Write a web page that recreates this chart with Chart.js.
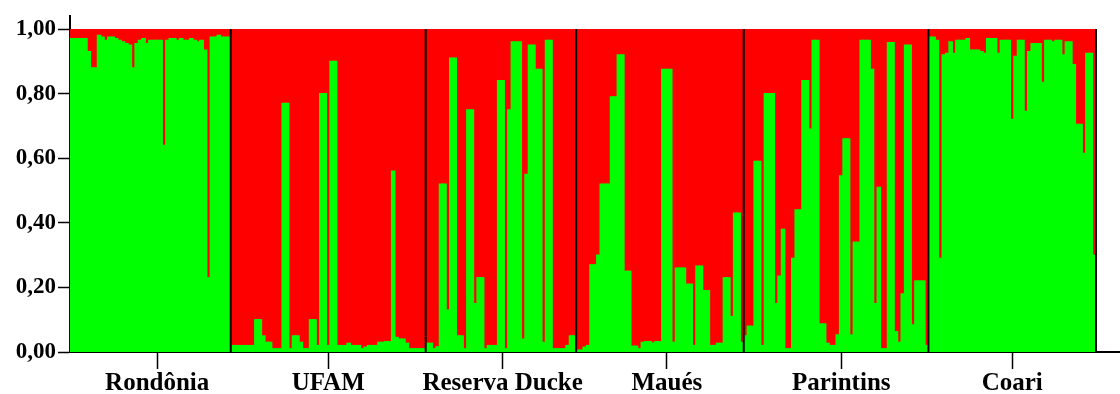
<!DOCTYPE html>
<html>
<head>
<meta charset="utf-8">
<script src="https://cdn.jsdelivr.net/npm/chart.js@4"></script>
<style>
    html, body { margin: 0; padding: 0; background: #fff; }
</style>
</head>
<body>
<canvas id="structureChart" width="1120" height="394"></canvas>
<script>
// Populações e proporção de cada indivíduo no grupo verde (o vermelho é o resto)
const popNames = ["Rondônia", "UFAM", "Reserva Ducke", "Maués", "Parintins", "Coari"];

const rondonia = [0.97, 0.97, 0.97, 0.97, 0.97, 0.93, 0.88, 0.88, 0.98, 0.975,
    0.965, 0.975, 0.975, 0.97, 0.965, 0.96, 0.955, 0.95, 0.88, 0.955,
    0.965, 0.97, 0.955, 0.965, 0.965, 0.965, 0.965, 0.64, 0.965, 0.97,
    0.97, 0.965, 0.97, 0.965, 0.965, 0.97, 0.965, 0.96, 0.965, 0.935,
    0.23, 0.975, 0.975, 0.98, 0.975, 0.975, 0.975];

const ufam = [0.02, 0.02, 0.02, 0.02, 0.02, 0.02, 0.02, 0.10, 0.10, 0.05,
    0.03, 0.03, 0.01, 0.01, 0.01, 0.77, 0.77, 0.01, 0.05, 0.05,
    0.03, 0.01, 0.01, 0.10, 0.10, 0.02, 0.80, 0.80, 0.02, 0.90,
    0.90, 0.02, 0.02, 0.02, 0.027, 0.02, 0.02, 0.02, 0.01, 0.015,
    0.02, 0.02, 0.02, 0.03, 0.03, 0.032, 0.032, 0.56, 0.045, 0.04,
    0.04, 0.027, 0.01, 0.01, 0.01, 0.01, 0.01];

const reservaDucke = [0.027, 0.027, 0.01, 0.016, 0.52, 0.52, 0.13, 0.91, 0.91, 0.05,
    0.05, 0.01, 0.75, 0.75, 0.15, 0.23, 0.23, 0.01, 0.02, 0.02,
    0.02, 0.84, 0.84, 0.01, 0.75, 0.96, 0.96, 0.96, 0.04, 0.55,
    0.95, 0.95, 0.875, 0.875, 0.03, 0.965, 0.965, 0.01, 0.01, 0.01,
    0.01, 0.02, 0.05, 0.05];

const maues = [0.006, 0.006, 0.015, 0.02, 0.27, 0.27, 0.30, 0.52, 0.52, 0.52,
    0.79, 0.79, 0.92, 0.92, 0.25, 0.25, 0.018, 0.018, 0.01, 0.03,
    0.032, 0.032, 0.028, 0.032, 0.032, 0.875, 0.875, 0.875, 0.03, 0.26,
    0.26, 0.26, 0.21, 0.21, 0.02, 0.266, 0.266, 0.19, 0.19, 0.02,
    0.02, 0.027, 0.027, 0.23, 0.23, 0.11, 0.43, 0.43, 0.03];

const parintins = [0.05, 0.08, 0.08, 0.59, 0.59, 0.02, 0.80, 0.80, 0.80, 0.15,
    0.235, 0.38, 0.01, 0.01, 0.29, 0.44, 0.44, 0.84, 0.84, 0.69,
    0.965, 0.965, 0.087, 0.087, 0.027, 0.02, 0.02, 0.053, 0.545, 0.66,
    0.66, 0.053, 0.34, 0.34, 0.965, 0.965, 0.965, 0.875, 0.15, 0.51,
    0.01, 0.01, 0.958, 0.958, 0.063, 0.03, 0.18, 0.95, 0.95, 0.084,
    0.22, 0.22, 0.22, 0.02];

const coari = [0.975, 0.975, 0.965, 0.29, 0.92, 0.925, 0.96, 0.925, 0.965, 0.965,
    0.965, 0.97, 0.935, 0.935, 0.935, 0.93, 0.925, 0.97, 0.97, 0.97,
    0.925, 0.965, 0.965, 0.965, 0.72, 0.915, 0.965, 0.965, 0.745, 0.93,
    0.955, 0.955, 0.955, 0.835, 0.965, 0.965, 0.96, 0.965, 0.965, 0.92,
    0.96, 0.96, 0.89, 0.705, 0.705, 0.615, 0.925, 0.925, 0.30];

// indivíduo onde fica o rótulo de cada população
const popTickIndex = [25, 75, 126, 174, 225, 275];

const yTicks = [0, 0.2, 0.4, 0.6, 0.8, 1.0];

const populations = [rondonia, ufam, reservaDucke, maues, parintins, coari];
const popSizes = populations.map(p => p.length);
const green = populations.flat();
const red = green.map(q => 1 - q);
const individuals = green.map((_, i) => String(i + 1));

const serif = "'Liberation Serif', 'Times New Roman', serif";

// Linhas pretas entre populações + prolongamento dos eixos
const popFrame = {
    id: 'popFrame',
    afterDraw(chart) {
        const { ctx, chartArea: a, scales: { x } } = chart;
        ctx.save();
        ctx.strokeStyle = '#000';
        ctx.lineWidth = 2;
        ctx.beginPath();
        let n = 0;
        popSizes.forEach(size => {
            n += size;
            const px = n < green.length
                ? (x.getPixelForValue(n - 1) + x.getPixelForValue(n)) / 2
                : a.right;
            ctx.moveTo(px, a.top);
            ctx.lineTo(px, a.bottom);
        });
        // eixo y sobe um pouco acima da área
        ctx.moveTo(a.left, 15);
        ctx.lineTo(a.left, a.top);
        // eixo x vai até a borda
        ctx.moveTo(a.right, a.bottom);
        ctx.lineTo(chart.width, a.bottom);
        ctx.stroke();
        ctx.restore();
    }
};

new Chart(document.getElementById('structureChart'), {
    type: 'bar',
    data: {
        labels: individuals,
        datasets: [
            { label: 'Grupo 1', data: green, backgroundColor: '#00ff00' },
            { label: 'Grupo 2', data: red, backgroundColor: '#ff0000' }
        ]
    },
    options: {
        responsive: false,
        animation: false,
        layout: { padding: { top: 29, right: 24, left: 0, bottom: 0 } },
        datasets: {
            bar: { barPercentage: 1, categoryPercentage: 1, borderWidth: 0, inflateAmount: 0.6 }
        },
        plugins: { legend: { display: false }, tooltip: { enabled: false } },
        scales: {
            x: {
                stacked: true,
                afterFit: s => { s.height = 42; },
                border: { display: true, color: '#000', width: 2 },
                grid: {
                    offset: false,
                    drawOnChartArea: false,
                    tickLength: 17,
                    tickWidth: 1.5,
                    tickColor: c => popTickIndex.includes(c.index) ? '#000' : 'rgba(0,0,0,0)'
                },
                ticks: {
                    autoSkip: false,
                    maxRotation: 0,
                    padding: 0,
                    color: '#000',
                    font: { family: serif, size: 25, weight: 'bold' },
                    callback: (v, i) => {
                        const k = popTickIndex.indexOf(i);
                        return k >= 0 ? popNames[k] : '';
                    }
                }
            },
            y: {
                stacked: true,
                min: 0,
                max: 1,
                afterFit: s => { s.width = 70; },
                afterBuildTicks: s => { s.ticks = yTicks.map(v => ({ value: v })); },
                border: { display: true, color: '#000', width: 2 },
                grid: { drawOnChartArea: false, tickLength: 12, tickWidth: 1.5, tickColor: '#000' },
                ticks: {
                    padding: 2,
                    color: '#000',
                    font: { family: serif, size: 23, weight: 'bold' },
                    callback: v => v.toFixed(2).replace('.', ',')
                }
            }
        }
    },
    plugins: [popFrame]
});
</script>
</body>
</html>
